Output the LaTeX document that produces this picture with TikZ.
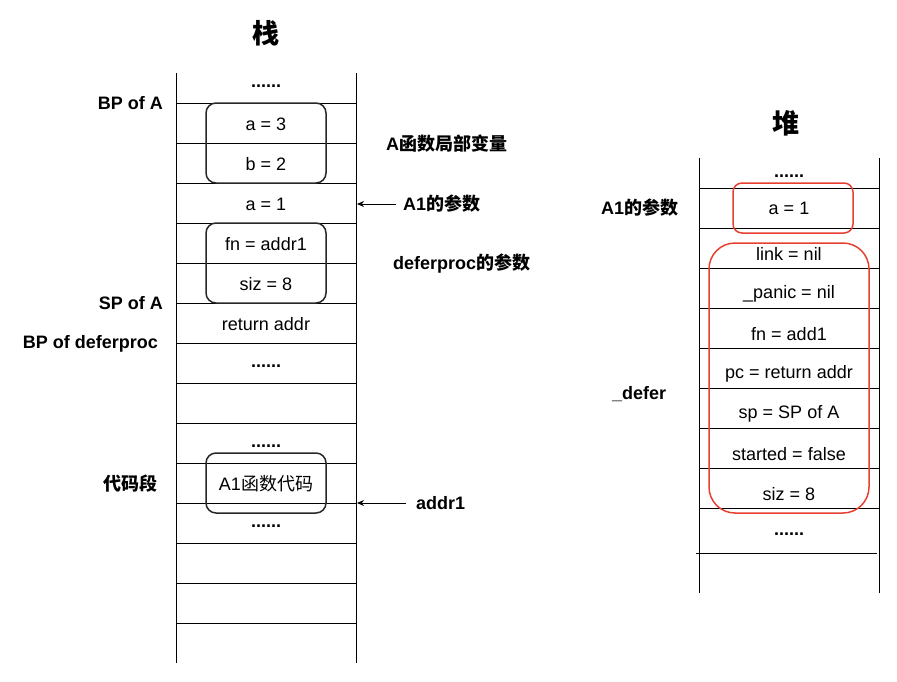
\documentclass[tikz,border=0pt]{standalone}
\usepackage{fontspec}
\setmainfont{Liberation Sans}
\newfontfamily\cjk{Noto Sans CJK SC}
\usepackage{tikz}
\usetikzlibrary{arrows.meta, positioning}
\definecolor{boxred}{RGB}{232,64,48}
\definecolor{boxgray}{RGB}{40,40,40}

\begin{document}
\begin{tikzpicture}[
    x=1pt, y=-1pt,
    val/.style={font=\fontsize{18}{21}\selectfont, inner sep=0pt},
    dots/.style={font=\bfseries\fontsize{18}{21}\selectfont, inner sep=0pt},
    lbl/.style={font=\bfseries\fontsize{18}{21}\selectfont, inner sep=0pt},
    title/.style={font=\bfseries\fontsize{27}{30}\selectfont\cjk, inner sep=0pt},
    grp/.style={draw=boxgray, line width=1.5pt, rounded corners=10pt},
    redgrp/.style={draw=boxred, line width=1.5pt},
    arr/.style={-{Stealth[length=7pt,width=6pt]}, line width=0.9pt}
  ]
    \useasboundingbox (0,0) rectangle (897,681);

    % stack frame
    \node[title] (stacktitle) at (266,33) {栈};
    \draw[line width=1pt] (176,73) -- (176,663) (356,73) -- (356,663);
    \draw[line width=1pt]
      (176,103) -- (356,103) (176,143) -- (356,143) (176,183) -- (356,183)
      (176,223) -- (356,223) (176,263) -- (356,263) (176,303) -- (356,303)
      (176,343) -- (356,343) (176,383) -- (356,383) (176,423) -- (356,423)
      (176,463) -- (356,463) (176,503) -- (356,503) (176,543) -- (356,543)
      (176,583) -- (356,583) (176,623) -- (356,623);

    \node[grp, minimum width=120, minimum height=80] (locals) at (266,143) {};
    \node[grp, minimum width=120, minimum height=80] (dpargs) at (266,263) {};
    \node[grp, minimum width=120, minimum height=60] (code)   at (266,483) {};

    \node[dots] (sdots1) at (266,86)  {......};
    \node[val]  (sa3)    at (266,124) {a = 3};
    \node[val]  (sb2)    at (266,164) {b = 2};
    \node[val]  (sa1)    at (266,204) {a = 1};
    \node[val]  (sfn)    at (266,244) {fn = addr1};
    \node[val]  (ssiz)   at (266,284) {siz = 8};
    \node[val]  (sret)   at (266,324) {return addr};
    \node[dots] (sdots2) at (266,366) {......};
    \node[dots] (sdots3) at (266,446) {......};
    \node[val]  (scode)  at (266,484) {A1{\cjk 函数代码}};
    \node[dots] (sdots4) at (266,526) {......};

    \node[lbl, anchor=east] (bpa)   at (163,103) {BP of A};
    \node[lbl, anchor=east] (spa)   at (163,303) {SP of A};
    \node[lbl, anchor=east] (bpdp)  at (158,344) {BP of deferproc};
    \node[lbl, anchor=east] (seg)   at (158,484) {\cjk 代码段};

    \node[lbl, anchor=west] (localslbl) at (386,144) {A{\cjk 函数局部变量}};
    \node[lbl, anchor=west, inner xsep=7pt] (a1lbl) at (396,204) {A1{\cjk 的参数}};
    \node[lbl, anchor=west] (dplbl) at (393,264) {deferproc{\cjk 的参数}};
    \node[lbl, anchor=west, inner xsep=10pt] (addrlbl) at (406,503) {addr1};

    \coordinate (a1tip)   at (357,204);
    \coordinate (addrtip) at (357,503);
    \draw[arr] (a1lbl.west)   -- (a1tip);
    \draw[arr] (addrlbl.west) -- (addrtip);

    % heap
    \node[title] (heaptitle) at (786,123) {堆};
    \draw[line width=1pt] (699,158) -- (699,593) (879,158) -- (879,593);
    \draw[line width=1pt]
      (699,188) -- (879,188) (699,228) -- (879,228) (699,268) -- (879,268)
      (699,308) -- (879,308) (699,348) -- (879,348) (699,388) -- (879,388)
      (699,428) -- (879,428) (699,468) -- (879,468) (699,508) -- (879,508)
      (696,553) -- (877,553);

    \node[redgrp, rounded corners=9pt, minimum width=120, minimum height=50] (hargs) at (793,208) {};
    \node[redgrp, rounded corners=26pt, minimum width=160, minimum height=270] (hdefer) at (789,378) {};

    \node[dots] (hdots1) at (789,176) {......};
    \node[val]  (ha1)    at (789,208) {a = 1};
    \node[val]  (hlink)  at (789,254) {link = nil};
    \node[val]  (hpanic) at (789,294) {\_panic = nil};
    \node[val]  (hfn)    at (789,334) {fn = add1};
    \node[val]  (hpc)    at (789,374) {pc = return addr};
    \node[val]  (hsp)    at (789,414) {sp = SP of A};
    \node[val]  (hstart) at (789,454) {started = false};
    \node[val]  (hsiz)   at (789,494) {siz = 8};
    \node[dots] (hdots2) at (789,534) {......};

    \node[lbl, anchor=west] (ha1lbl)    at (601,208) {A1{\cjk 的参数}};
    \node[lbl, anchor=west] (deferlbl)  at (612,394) {\_defer};

  \end{tikzpicture}
\end{document}
